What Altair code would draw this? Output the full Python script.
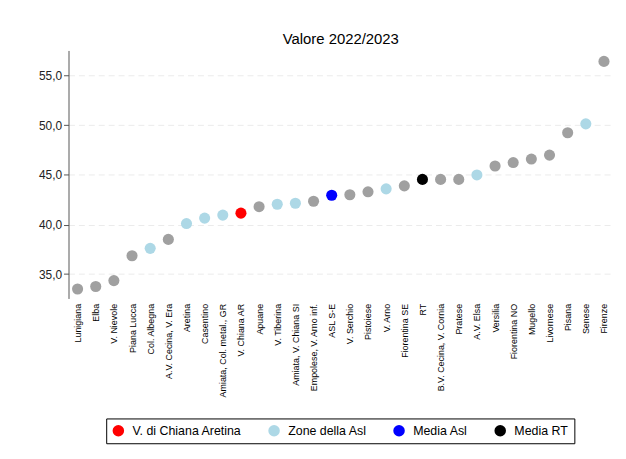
import altair as alt
import pandas as pd

zone = ["Lunigiana", "Elba", "V. Nievole", "Piana Lucca", "Col. Albegna",
        "A.V. Cecina, V. Era", "Aretina", "Casentino", "Amiata, Col. metal., GR",
        "V. Chiana AR", "Apuane", "V. Tiberina", "Amiata, V. Chiana SI",
        "Empolese, V. Arno inf.", "ASL S-E", "V. Serchio", "Pistoiese", "V. Arno",
        "Fiorentina SE", "RT", "B.V. Cecina, V. Cornia", "Pratese", "A.V. Elsa",
        "Versilia", "Fiorentina NO", "Mugello", "Livornese", "Pisana", "Senese", "Firenze"]
valori = [33.5, 33.75, 34.35, 36.85, 37.6, 38.5, 40.1, 40.65, 40.95, 41.15,
          41.8, 42.05, 42.15, 42.35, 42.95, 43.0, 43.3, 43.6, 43.9, 44.55,
          44.55, 44.55, 45.0, 45.9, 46.25, 46.6, 47.0, 49.25, 50.15, 56.45]
gruppi = ["Altre", "Altre", "Altre", "Altre", "Zone della Asl",
          "Altre", "Zone della Asl", "Zone della Asl", "Zone della Asl",
          "V. di Chiana Aretina", "Altre", "Zone della Asl", "Zone della Asl",
          "Altre", "Media Asl", "Altre", "Altre", "Zone della Asl",
          "Altre", "Media RT", "Altre", "Altre", "Zone della Asl",
          "Altre", "Altre", "Altre", "Altre", "Altre", "Zone della Asl", "Altre"]

legenda = ["V. di Chiana Aretina", "Zone della Asl", "Media Asl", "Media RT"]
dominio = legenda + ["Altre"]
colori = ["#ff0000", "#add8e6", "#0000ff", "#000000", "#a0a0a0"]
y_ticks = [35, 40, 45, 50, 55]

df = pd.DataFrame({"zona": zone, "valore": valori, "gruppo": gruppi})

chart = alt.Chart(df).mark_circle(size=125, opacity=1).encode(
    x=alt.X("zona:N", sort=None, title=None,
            axis=alt.Axis(labelAngle=-90, labelFontSize=9, labelColor="#000",
                          domain=False, ticks=False, labelPadding=5,
                          labelFont="Liberation Sans", labelLimit=300)),
    y=alt.Y("valore:Q", title=None,
            scale=alt.Scale(domain=[32.55, 57.55], nice=False, zero=False),
            axis=alt.Axis(values=y_ticks,
                          labelExpr="replace(format(datum.value, '.1f'), '.', ',')",
                          labelFontSize=12, labelColor="#222",
                          labelFont="Liberation Sans",
                          domainColor="#555", tickColor="#555", tickSize=5,
                          grid=True, gridColor="#ebebeb", gridDash=[6, 4])),
    color=alt.Color("gruppo:N", title=None,
                    scale=alt.Scale(domain=dominio, range=colori),
                    legend=alt.Legend(values=legenda, orient="none",
                                      direction="horizontal",
                                      legendX=38, legendY=371,
                                      strokeColor="#000", padding=6,
                                      symbolType="circle", symbolSize=135,
                                      symbolStrokeWidth=0, symbolOpacity=1,
                                      labelFontSize=12.5, labelColor="#000",
                                      labelFont="Liberation Sans",
                                      columnPadding=26, labelOffset=8,
                                      labelLimit=300)),
).properties(
    width=549, height=250,
    title=alt.TitleParams("Valore 2022/2023", fontSize=15, fontWeight="normal",
                          font="Liberation Sans", color="#000", anchor="middle"),
    padding={"left": 30, "top": 22, "right": 5, "bottom": 5},
).configure_view(stroke=None)

chart.save("out.html", embed_options={"renderer": "svg", "actions": False})
